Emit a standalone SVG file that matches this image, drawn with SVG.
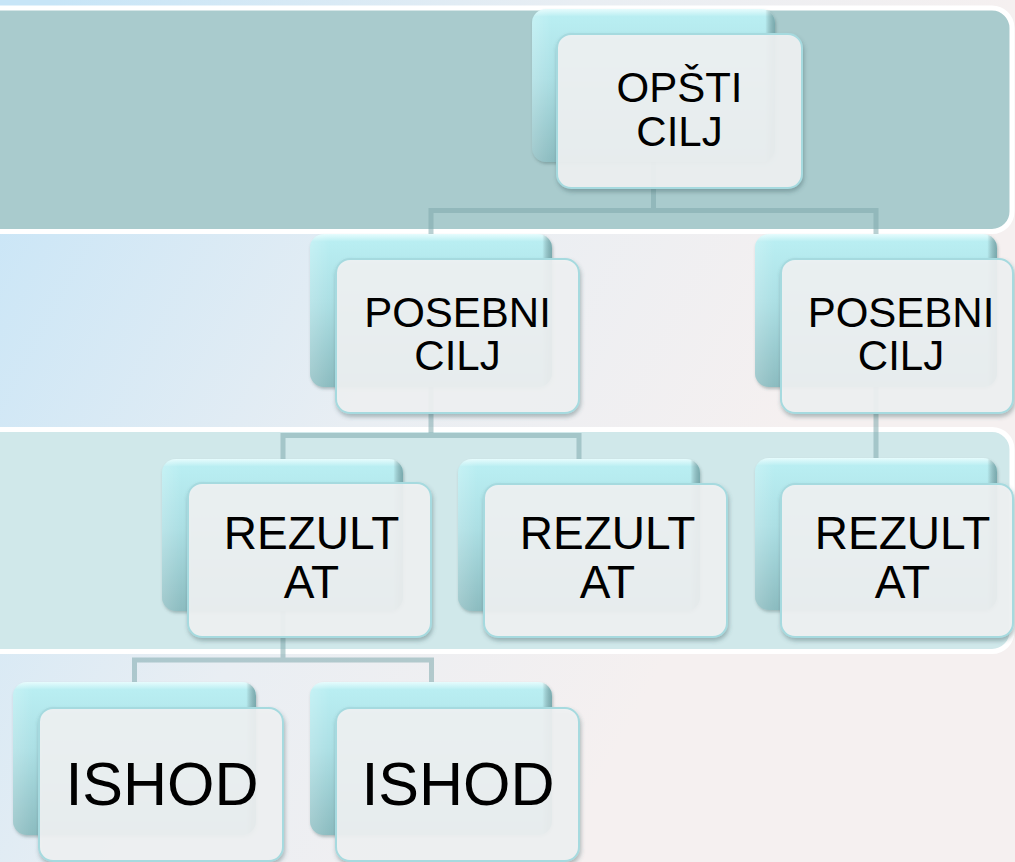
<svg xmlns="http://www.w3.org/2000/svg" width="1015" height="862" viewBox="0 0 1015 862">
<defs>
  <linearGradient id="bg" gradientUnits="userSpaceOnUse" x1="0" y1="100" x2="750" y2="500">
    <stop offset="0" stop-color="#c7e5f7"/>
    <stop offset="0.55" stop-color="#e9eef3"/>
    <stop offset="1" stop-color="#f5f0f0"/>
  </linearGradient>
  <linearGradient id="backg" x1="0" y1="0" x2="0" y2="1">
    <stop offset="0" stop-color="#e6fcfd"/>
    <stop offset="0.05" stop-color="#b9eef2"/>
    <stop offset="0.45" stop-color="#acdfe4"/>
    <stop offset="1" stop-color="#8cbcc0"/>
  </linearGradient>
  <linearGradient id="backside" x1="0" y1="0" x2="1" y2="0">
    <stop offset="0" stop-color="#ffffff" stop-opacity="0.18"/>
    <stop offset="0.08" stop-color="#ffffff" stop-opacity="0"/>
    <stop offset="0.96" stop-color="#000000" stop-opacity="0"/>
    <stop offset="1" stop-color="#2d5a5e" stop-opacity="0.45"/>
  </linearGradient>
  <filter id="sh" x="-10%" y="-10%" width="125%" height="130%">
    <feDropShadow dx="1" dy="3" stdDeviation="2.2" flood-color="#3a5a5c" flood-opacity="0.4"/>
  </filter>
  <filter id="shb" x="-10%" y="-10%" width="125%" height="130%">
    <feDropShadow dx="1" dy="2" stdDeviation="1.5" flood-color="#3a5a5c" flood-opacity="0.35"/>
  </filter>
</defs>
<style>
  .band { stroke: #ffffff; stroke-width: 5; }
  .back { fill: url(#backg); filter: url(#shb); }
  .backov { fill: url(#backside); }
  .front { fill: #f1f3f4; fill-opacity: 0.9; stroke: #a6dadf; stroke-width: 2; filter: url(#sh); }
  .conn { fill: none; stroke: #7fa9ad; stroke-opacity: 0.55; stroke-width: 5; stroke-linejoin: miter; stroke-linecap: butt; }
  .t { font-family: "Liberation Sans", Arial, sans-serif; fill: #000000; text-anchor: middle; }
  .s42 { font-size: 42px; }
  .s46 { font-size: 46px; }
  .s61 { font-size: 61px; }
</style>

<rect x="0" y="0" width="1015" height="862" fill="url(#bg)"/>

<g id="bands">
  <rect class="band" x="-20" y="8" width="1032" height="223.5" rx="20" fill="#a9cbcd"/>
  <rect class="band" x="-20" y="429.5" width="1032" height="222" rx="20" fill="#d0e8ea"/>
</g>

<g id="connectors">
  <path class="conn" d="M653.5,160 V210.5 M431,234 V210.5 H876 V234"/>
  <path class="conn" d="M431,385 V435.5 M283,459 V435.5 H579 V459"/>
  <path class="conn" d="M876,385 V458"/>
  <path class="conn" d="M283,609 V660 M134.5,682 V660 H431.5 V682"/>
</g>

<g id="n-opsti">
  <rect class="back" x="532" y="9" width="243" height="153" rx="14"/>
  <rect class="backov" x="532" y="9" width="243" height="153" rx="14"/>
  <rect class="front" x="557" y="34" width="245" height="154" rx="14"/>
  <text class="t s42" x="679.5" y="102">OPŠTI</text>
  <text class="t s42" x="679.5" y="146">CILJ</text>
</g>

<g id="n-posebni1">
  <rect class="back" x="310" y="234" width="242" height="153" rx="14"/>
  <rect class="backov" x="310" y="234" width="242" height="153" rx="14"/>
  <rect class="front" x="336" y="259" width="243" height="154" rx="14"/>
  <text class="t s42" x="457.5" y="327">POSEBNI</text>
  <text class="t s42" x="457.5" y="370">CILJ</text>
</g>

<g id="n-posebni2">
  <rect class="back" x="755" y="234" width="242" height="153" rx="14"/>
  <rect class="backov" x="755" y="234" width="242" height="153" rx="14"/>
  <rect class="front" x="781" y="259" width="232" height="154" rx="14"/>
  <text class="t s42" x="901" y="327">POSEBNI</text>
  <text class="t s42" x="901" y="370">CILJ</text>
</g>

<g id="n-rezultat1">
  <rect class="back" x="162" y="459" width="241" height="152" rx="14"/>
  <rect class="backov" x="162" y="459" width="241" height="152" rx="14"/>
  <rect class="front" x="188" y="483" width="243" height="154" rx="14"/>
  <text class="t s46" x="311.5" y="549">REZULT</text>
  <text class="t s46" x="311.5" y="598">AT</text>
</g>

<g id="n-rezultat2">
  <rect class="back" x="458" y="459" width="242" height="152" rx="14"/>
  <rect class="backov" x="458" y="459" width="242" height="152" rx="14"/>
  <rect class="front" x="484" y="484" width="243" height="153" rx="14"/>
  <text class="t s46" x="607.5" y="549">REZULT</text>
  <text class="t s46" x="607.5" y="598">AT</text>
</g>

<g id="n-rezultat3">
  <rect class="back" x="755" y="458" width="242" height="152" rx="14"/>
  <rect class="backov" x="755" y="458" width="242" height="152" rx="14"/>
  <rect class="front" x="781" y="484" width="232" height="153" rx="14"/>
  <text class="t s46" x="902.5" y="549">REZULT</text>
  <text class="t s46" x="902.5" y="598">AT</text>
</g>

<g id="n-ishod1">
  <rect class="back" x="13" y="682" width="243" height="153" rx="14"/>
  <rect class="backov" x="13" y="682" width="243" height="153" rx="14"/>
  <rect class="front" x="39" y="708" width="244" height="153" rx="14"/>
  <text class="t s61" x="162" y="805">ISHOD</text>
</g>

<g id="n-ishod2">
  <rect class="back" x="310" y="682" width="242" height="153" rx="14"/>
  <rect class="backov" x="310" y="682" width="242" height="153" rx="14"/>
  <rect class="front" x="336" y="708" width="243" height="153" rx="14"/>
  <text class="t s61" x="458" y="805">ISHOD</text>
</g>
</svg>
